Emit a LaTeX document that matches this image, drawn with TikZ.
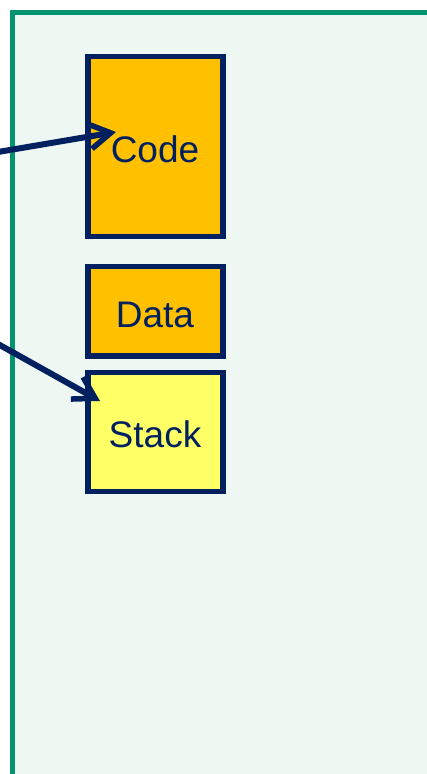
\documentclass[tikz,border=0pt]{standalone}
\usepackage{fontspec}
\setmainfont{Liberation Sans}
\usetikzlibrary{arrows.meta}
\definecolor{panelgreen}{HTML}{00956E}
\definecolor{panelfill}{HTML}{EEF7F2}
\definecolor{navy}{HTML}{002060}
\definecolor{codeorange}{HTML}{FFC000}
\definecolor{stackyellow}{HTML}{FFFF66}
\tikzset{
  segbox/.style={draw=navy, line width=5.3pt},
  seglabel/.style={text=navy, inner sep=0pt, anchor=base,
    font=\fontsize{37}{42}\selectfont},
  pointer/.style={draw=navy, line width=6pt,
    -{Straight Barb[length=21pt,width=25pt,line width=5.5pt]}},
}
\begin{document}
\begin{tikzpicture}[x=1pt,y=-1pt]
  \useasboundingbox (0,0) rectangle (426,774);
  % memory panel, running past the right and bottom edges
  \fill[panelfill] (12.5,12) rectangle (440,790);
  \draw[panelgreen, line width=5pt] (12.5,790) -- (12.5,12) -- (440,12);
  % segments
  \draw[segbox, fill=codeorange] (88,56.6) rectangle (223,236.4);
  \draw[segbox, fill=codeorange] (88,266.6) rectangle (223,356);
  \draw[segbox, fill=stackyellow] (88,372.3) rectangle (223,491.7);
  \node[seglabel] (codelbl) at (155,162) {Code};
  \node[seglabel] (datalbl) at (155,327) {Data};
  \node[seglabel] (stacklbl) at (155,447) {Stack};
  % incoming pointers
  \coordinate (src1) at (-2,152);
  \coordinate (dst1) at (116,132);
  \coordinate (src2) at (-2,344);
  \coordinate (dst2) at (100,401);
  \draw[pointer] (src1) -- (dst1);
  \draw[pointer] (src2) -- (dst2);
\end{tikzpicture}
\end{document}
